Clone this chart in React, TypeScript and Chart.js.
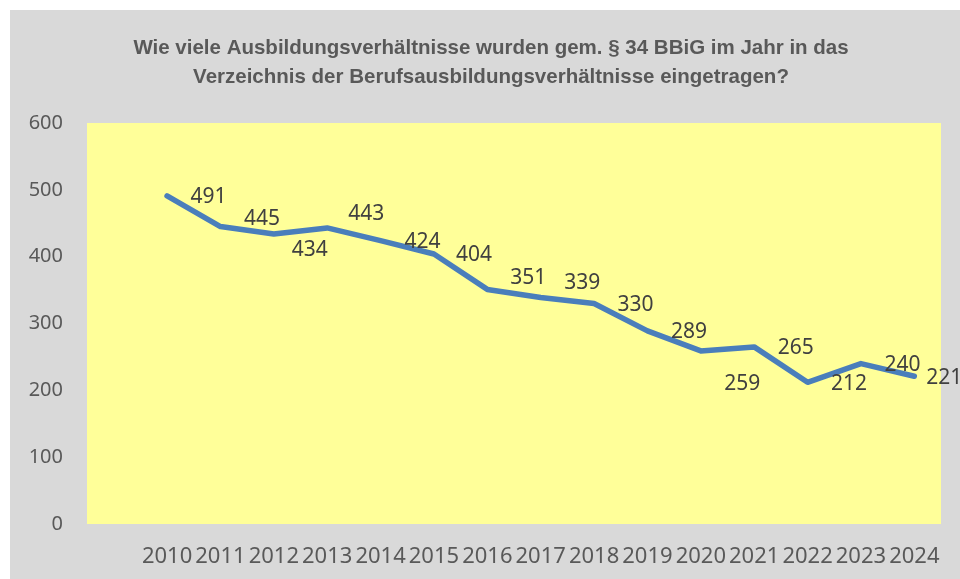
import React, { useEffect, useRef } from "react";
import { Chart, registerables } from "chart.js";

Chart.register(...registerables);

const TITLE_LINES = [
  "Wie viele Ausbildungsverhältnisse wurden gem. § 34 BBiG im Jahr in das",
  "Verzeichnis der Berufsausbildungsverhältnisse eingetragen?",
];

// leading empty category as in the original workbook
const YEARS = ["", "2010", "2011", "2012", "2013", "2014", "2015", "2016", "2017", "2018", "2019", "2020", "2021", "2022", "2023", "2024"];
const VALUES = [null, 491, 445, 434, 443, 424, 404, 351, 339, 330, 289, 259, 265, 212, 240, 221];
const Y_MIN = 0;
const Y_MAX = 600;
const Y_STEP = 100;

// label offsets (dx, dy) relative to the point, in px
const LABEL_OFFSETS: [number, number][] = [
  [0, 0],
  [41.5, 1.5], [41.5, -8], [36, 16], [39, -13.5], [42, 1.5], [40, 1.5], [41, -11.5],
  [41.5, -14.5], [41.5, 1.5], [41.5, 1], [41.5, 33.5], [41.5, 1], [41.5, 2], [41.5, 1.5], [30, 1.5],
];

const FONT = "'Noto Sans', 'Open Sans', sans-serif";
const TITLE_FONT = "bold 20.5px 'Liberation Sans', Arial, sans-serif";

export default function App() {
  const ref = useRef<HTMLCanvasElement | null>(null);

  useEffect(() => {
    if (!ref.current) return;

    const backgroundPlugin = {
      id: "bgPlugin",
      beforeDraw(chart: any) {
        const { ctx, chartArea } = chart;
        ctx.save();
        ctx.fillStyle = "#ffffff";
        ctx.fillRect(0, 0, chart.width, chart.height);
        ctx.fillStyle = "#d9d9d9";
        ctx.fillRect(10, 10, chart.width - 10, chart.height - 10);
        ctx.fillStyle = "#ffff99";
        ctx.fillRect(chartArea.left, chartArea.top, chartArea.right - chartArea.left, chartArea.bottom - chartArea.top);
        ctx.fillStyle = "#595959";
        ctx.font = TITLE_FONT;
        ctx.textAlign = "center";
        ctx.textBaseline = "middle";
        TITLE_LINES.forEach((line, i) => ctx.fillText(line, 491, 48 + i * 29));
        ctx.restore();
      },
    };

    const labelPlugin = {
      id: "valueLabels",
      afterDatasetsDraw(chart: any) {
        const { ctx } = chart;
        const meta = chart.getDatasetMeta(0);
        ctx.save();
        ctx.font = `21px ${FONT}`;
        ctx.fillStyle = "#404040";
        ctx.textAlign = "center";
        ctx.textBaseline = "middle";
        meta.data.forEach((pt: any, i: number) => {
          const v = VALUES[i];
          if (v === null || v === undefined) return;
          const [dx, dy] = LABEL_OFFSETS[i] || [41, 1];
          ctx.fillText(String(v), pt.x + dx, pt.y + dy);
        });
        ctx.restore();
      },
    };

    const chart = new Chart(ref.current, {
      type: "line",
      data: {
        labels: YEARS,
        datasets: [
          {
            data: VALUES as any,
            borderColor: "#4a7ebb",
            borderWidth: 5.5,
            pointRadius: 0,
            pointHoverRadius: 0,
            tension: 0,
            borderCapStyle: "round",
            borderJoinStyle: "round",
            fill: false,
            spanGaps: false,
          },
        ],
      },
      options: {
        animation: false,
        responsive: false,
        maintainAspectRatio: false,
        events: [],
        layout: { padding: { left: 0, right: 17, top: 123, bottom: 0 } },
        plugins: {
          legend: { display: false },
          tooltip: { enabled: false },
          title: { display: false },
        },
        scales: {
          x: {
            offset: true,
            grid: { display: false, drawTicks: false },
            border: { display: false },
            ticks: {
              color: "#595959",
              font: { family: FONT, size: 22 },
              padding: 20,
              autoSkip: false,
              maxRotation: 0,
              minRotation: 0,
            },
            afterFit(scale: any) {
              scale.height = 55;
            },
          },
          y: {
            min: Y_MIN,
            max: Y_MAX,
            grid: { display: false, drawTicks: false },
            border: { display: false },
            ticks: {
              stepSize: Y_STEP,
              color: "#595959",
              font: { family: FONT, size: 20 },
              padding: 24,
            },
            afterFit(scale: any) {
              scale.width = 87;
            },
          },
        },
      },
      plugins: [backgroundPlugin, labelPlugin],
    });

    return () => chart.destroy();
  }, []);

  return (
    <div style={{ position: "fixed", left: 0, top: 0, width: 960, height: 579 }}>
      <canvas ref={ref} width={960} height={579} style={{ width: 960, height: 579, display: "block" }} />
    </div>
  );
}
